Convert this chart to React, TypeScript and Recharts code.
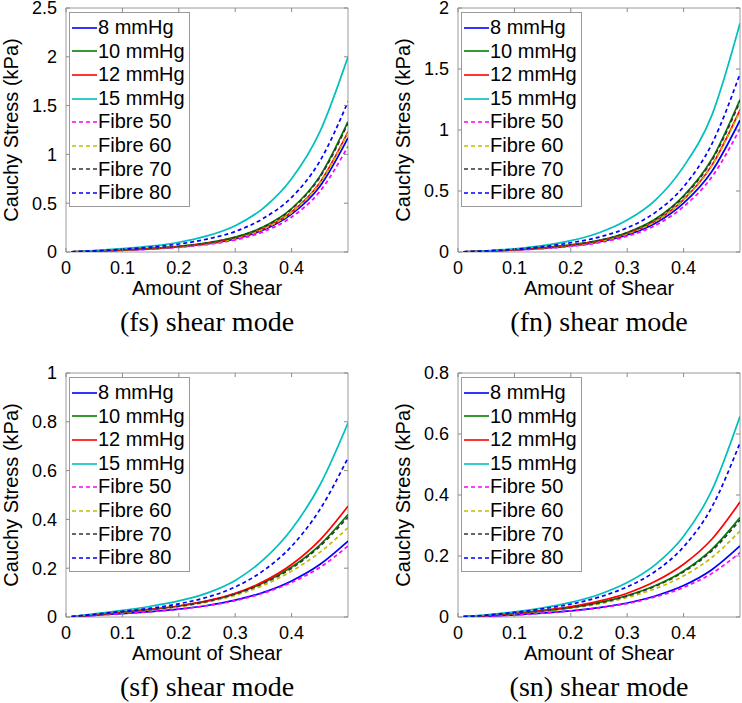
import React from 'react';
import { LineChart, Line, XAxis, YAxis, ReferenceArea, Legend, Label } from 'recharts';

// Amount of shear sample points
const xValues = [0.01, 0.05, 0.1, 0.15, 0.2, 0.25, 0.3, 0.35, 0.4, 0.45, 0.5];
const xTicks = [0, 0.1, 0.2, 0.3, 0.4];

const seriesNames = ['8 mmHg', '10 mmHg', '12 mmHg', '15 mmHg', 'Fibre 50', 'Fibre 60', 'Fibre 70', 'Fibre 80'];
const seriesColors = ['#0000ff', '#007f00', '#ff0000', '#00bfbf', '#ff00ff', '#bfbf00', '#333333', '#0000ff'];
const seriesDashed = [false, false, false, false, true, true, true, true];

// (fs) shear mode
const fsP8 = [0.002, 0.008, 0.019, 0.032, 0.052, 0.082, 0.133, 0.225, 0.388, 0.672, 1.17];
const fsP10 = [0.002, 0.009, 0.021, 0.036, 0.058, 0.093, 0.152, 0.258, 0.445, 0.775, 1.335];
const fsP12 = [0.002, 0.009, 0.02, 0.034, 0.055, 0.087, 0.141, 0.238, 0.41, 0.71, 1.23];
const fsP15 = [0.002, 0.015, 0.034, 0.06, 0.1, 0.165, 0.27, 0.45, 0.75, 1.23, 2.0];
const fsF50 = [0.002, 0.008, 0.017, 0.03, 0.048, 0.076, 0.123, 0.208, 0.358, 0.62, 1.08];
const fsF60 = [0.002, 0.009, 0.02, 0.034, 0.055, 0.086, 0.14, 0.236, 0.405, 0.705, 1.22];
const fsF70 = [0.002, 0.009, 0.021, 0.036, 0.058, 0.092, 0.15, 0.255, 0.44, 0.765, 1.32];
const fsF80 = [0.002, 0.012, 0.028, 0.05, 0.082, 0.132, 0.21, 0.345, 0.56, 0.93, 1.54];

// (fn) shear mode
const fnP8 = [0.002, 0.007, 0.017, 0.03, 0.05, 0.083, 0.139, 0.235, 0.4, 0.66, 1.08];
const fnP10 = [0.002, 0.008, 0.019, 0.035, 0.058, 0.095, 0.16, 0.27, 0.46, 0.76, 1.25];
const fnP12 = [0.002, 0.008, 0.018, 0.033, 0.054, 0.089, 0.15, 0.253, 0.43, 0.71, 1.165];
const fnP15 = [0.002, 0.01, 0.026, 0.052, 0.093, 0.158, 0.262, 0.426, 0.7, 1.12, 1.875];
const fnF50 = [0.002, 0.007, 0.016, 0.028, 0.046, 0.077, 0.129, 0.218, 0.372, 0.615, 1.01];
const fnF60 = [0.002, 0.008, 0.018, 0.033, 0.054, 0.088, 0.149, 0.251, 0.427, 0.705, 1.155];
const fnF70 = [0.002, 0.008, 0.019, 0.035, 0.058, 0.094, 0.158, 0.267, 0.455, 0.75, 1.235];
const fnF80 = [0.002, 0.009, 0.022, 0.044, 0.076, 0.122, 0.198, 0.325, 0.535, 0.885, 1.46];

// (sf) shear mode
const sfP8 = [0.001, 0.007, 0.014, 0.022, 0.032, 0.047, 0.069, 0.101, 0.148, 0.215, 0.311];
const sfP10 = [0.002, 0.009, 0.02, 0.031, 0.045, 0.065, 0.095, 0.14, 0.205, 0.295, 0.42];
const sfP12 = [0.002, 0.009, 0.02, 0.031, 0.045, 0.066, 0.097, 0.145, 0.215, 0.315, 0.454];
const sfP15 = [0.002, 0.013, 0.027, 0.044, 0.066, 0.098, 0.15, 0.235, 0.36, 0.54, 0.795];
const sfF50 = [0.001, 0.007, 0.014, 0.022, 0.032, 0.046, 0.067, 0.098, 0.142, 0.203, 0.291];
const sfF60 = [0.002, 0.009, 0.019, 0.029, 0.042, 0.061, 0.089, 0.13, 0.188, 0.265, 0.366];
const sfF70 = [0.002, 0.009, 0.02, 0.03, 0.044, 0.064, 0.094, 0.138, 0.2, 0.29, 0.41];
const sfF80 = [0.002, 0.011, 0.023, 0.036, 0.054, 0.081, 0.123, 0.19, 0.29, 0.44, 0.652];

// (sn) shear mode
const snP8 = [0.001, 0.003, 0.007, 0.013, 0.02, 0.031, 0.046, 0.069, 0.103, 0.155, 0.233];
const snP10 = [0.001, 0.005, 0.011, 0.02, 0.031, 0.047, 0.07, 0.103, 0.151, 0.222, 0.326];
const snP12 = [0.001, 0.005, 0.012, 0.022, 0.034, 0.052, 0.078, 0.117, 0.173, 0.255, 0.377];
const snP15 = [0.001, 0.007, 0.017, 0.03, 0.048, 0.074, 0.113, 0.172, 0.265, 0.415, 0.658];
const snF50 = [0.001, 0.003, 0.007, 0.013, 0.02, 0.03, 0.044, 0.066, 0.097, 0.143, 0.211];
const snF60 = [0.001, 0.005, 0.011, 0.019, 0.029, 0.043, 0.064, 0.093, 0.135, 0.195, 0.282];
const snF70 = [0.001, 0.005, 0.011, 0.02, 0.031, 0.046, 0.069, 0.101, 0.148, 0.217, 0.318];
const snF80 = [0.001, 0.006, 0.015, 0.027, 0.042, 0.065, 0.099, 0.15, 0.23, 0.36, 0.571];

const fsTicks = [0, 0.5, 1, 1.5, 2, 2.5];
const fnTicks = [0, 0.5, 1, 1.5, 2];
const sfTicks = [0, 0.2, 0.4, 0.6, 0.8, 1];
const snTicks = [0, 0.2, 0.4, 0.6, 0.8];

const buildRows = (cols: number[][]) =>
  xValues.map((x, i) => {
    const r: any = { x };
    cols.forEach((c, j) => {
      r['s' + j] = c[i];
    });
    return r;
  });

const panels = [
  { caption: '(fs) shear mode', left: 0, top: 0, ticks: fsTicks, rows: buildRows([fsP8, fsP10, fsP12, fsP15, fsF50, fsF60, fsF70, fsF80]) },
  { caption: '(fn) shear mode', left: 392, top: 0, ticks: fnTicks, rows: buildRows([fnP8, fnP10, fnP12, fnP15, fnF50, fnF60, fnF70, fnF80]) },
  { caption: '(sf) shear mode', left: 0, top: 365, ticks: sfTicks, rows: buildRows([sfP8, sfP10, sfP12, sfP15, sfF50, sfF60, sfF70, sfF80]) },
  { caption: '(sn) shear mode', left: 392, top: 365, ticks: snTicks, rows: buildRows([snP8, snP10, snP12, snP15, snF50, snF60, snF70, snF80]) },
];

const FONT = '"Liberation Sans", Arial, Helvetica, sans-serif';
const CW = 371;
const CH = 300;
const M = { top: 8, right: 23, left: 0, bottom: 0 };
const YW = 66;
const PLOT_L = YW;
const PLOT_R = CW - M.right;
const PLOT_T = M.top;
const TICK_C = '#8a8a8a';

const XTick = (props: any) => {
  const { x, y, payload } = props;
  return (
    <g>
      <line x1={x} x2={x} y1={y} y2={y - 4} stroke={TICK_C} />
      <line x1={x} x2={x} y1={PLOT_T} y2={PLOT_T + 4} stroke={TICK_C} />
      <text x={x} y={y + 22} textAnchor="middle" fontSize={18} fontFamily={FONT} fill="#000">
        {payload.value}
      </text>
    </g>
  );
};

const YTick = (props: any) => {
  const { x, y, payload } = props;
  return (
    <g>
      <line x1={PLOT_L} x2={PLOT_L + 4} y1={y} y2={y} stroke={TICK_C} />
      <line x1={PLOT_R} x2={PLOT_R - 4} y1={y} y2={y} stroke={TICK_C} />
      <text x={x - 9} y={y} dy="0.36em" textAnchor="end" fontSize={18} fontFamily={FONT} fill="#000">
        {payload.value}
      </text>
    </g>
  );
};

const LegendBox = () => (
  <div
    style={{
      boxSizing: 'border-box',
      width: 121,
      height: 195,
      border: '1px solid #9a9a9a',
      background: '#fff',
      paddingTop: 3,
      fontFamily: FONT,
    }}
  >
    {seriesNames.map((name, i) => (
      <div key={name} style={{ display: 'flex', alignItems: 'center', height: 23.6 }}>
        <svg width={28} height={10} style={{ display: 'block', flex: 'none' }}>
          <line
            x1={2}
            x2={27}
            y1={5}
            y2={5}
            stroke={seriesColors[i]}
            strokeWidth={1.6}
            strokeDasharray={seriesDashed[i] ? '4 3' : undefined}
          />
        </svg>
        <span style={{ fontSize: 20, lineHeight: '23.6px', color: '#000', whiteSpace: 'nowrap' }}>{name}</span>
      </div>
    ))}
  </div>
);

const Panel = ({ p }: { p: any }) => {
  const yMax = p.ticks[p.ticks.length - 1];
  return (
    <div style={{ position: 'absolute', left: p.left, top: p.top, width: CW, height: CH }}>
      <LineChart width={CW} height={CH} data={p.rows} margin={M}>
        <XAxis
          dataKey="x"
          type="number"
          domain={[0, 0.5]}
          ticks={xTicks}
          interval={0}
          height={CH - M.top - 244}
          axisLine={false}
          tickLine={false}
          tickSize={0}
          tickMargin={0}
          tick={<XTick />}
          allowDataOverflow
        >
          <Label value="Amount of Shear" position="insideBottom" offset={5} style={{ fontSize: 20, fill: '#000', fontFamily: FONT }} />
        </XAxis>
        <YAxis
          type="number"
          domain={[0, yMax]}
          ticks={p.ticks}
          interval={0}
          width={YW}
          axisLine={false}
          tickLine={false}
          tickSize={0}
          tickMargin={0}
          tick={<YTick />}
          allowDataOverflow
        >
          <Label
            value="Cauchy Stress (kPa)"
            position="insideLeft"
            angle={-90}
            offset={11}
            style={{ fontSize: 20, fill: '#000', fontFamily: FONT, textAnchor: 'middle' }}
          />
        </YAxis>
        <ReferenceArea x1={0} x2={0.5} y1={0} y2={yMax} fill="none" stroke="#9a9a9a" strokeWidth={1} ifOverflow="visible" />
        {seriesNames.map((name, i) => (
          <Line
            key={name}
            name={name}
            dataKey={'s' + i}
            type="monotone"
            stroke={seriesColors[i]}
            strokeWidth={1.7}
            strokeDasharray={seriesDashed[i] ? '4 3' : undefined}
            dot={false}
            activeDot={false}
            isAnimationActive={false}
          />
        ))}
        <Legend
          layout="vertical"
          align="center"
          verticalAlign="middle"
          wrapperStyle={{ left: 69, top: 12, width: 121, height: 195 }}
          content={() => <LegendBox />}
        />
      </LineChart>
      <div
        style={{
          position: 'absolute',
          left: 207 - 150,
          width: 300,
          top: 308,
          textAlign: 'center',
          fontFamily: '"Liberation Serif", "Times New Roman", serif',
          fontSize: 28,
          lineHeight: '28px',
          color: '#000',
          whiteSpace: 'nowrap',
        }}
      >
        {p.caption}
      </div>
    </div>
  );
};

export default function App() {
  return (
    <div
      style={{
        position: 'absolute',
        left: 0,
        top: 0,
        width: 742,
        height: 703,
        overflow: 'hidden',
        background: '#fff',
      }}
    >
      {panels.map((p) => (
        <Panel key={p.caption} p={p} />
      ))}
    </div>
  );
}
